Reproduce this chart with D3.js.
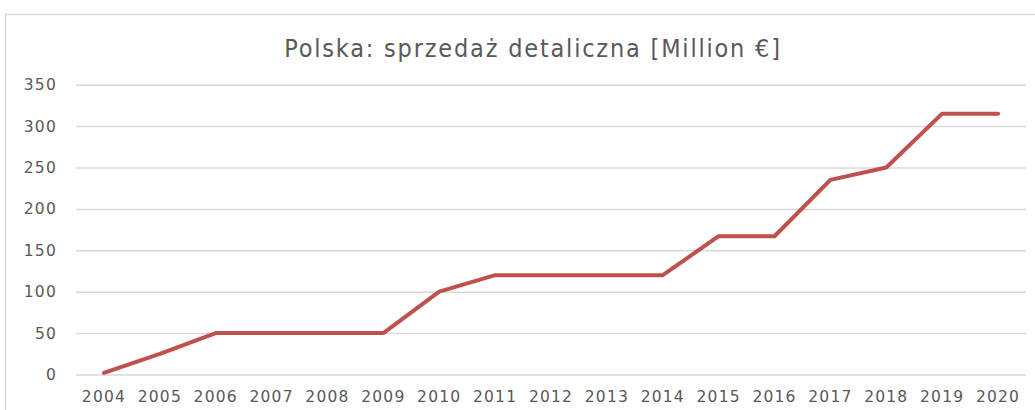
<!DOCTYPE html>
<html>
<head>
<meta charset="utf-8">
<script src="https://cdn.jsdelivr.net/npm/d3@7"></script>
<style>
  body { margin: 0; background: #fff; }
  svg { display: block; }
</style>
</head>
<body>
<div id="chart"></div>
<script>
// chart data
const years = ['2004', '2005', '2006', '2007', '2008', '2009', '2010', '2011', '2012',
  '2013', '2014', '2015', '2016', '2017', '2018', '2019', '2020'];
const sales = [2, 25, 50, 50, 50, 50, 100, 120, 120, 120, 120, 167, 167, 235, 250, 315, 315];
const yTicks = [0, 50, 100, 150, 200, 250, 300, 350];
const title = 'Polska: sprzedaż detaliczna [Million €]';

const W = 1035, H = 410;
const margin = { top: 84.7, right: 9, bottom: 35.5, left: 76 };
const width = W - margin.left - margin.right;
const height = H - margin.top - margin.bottom;

const svg = d3.select('#chart').append('svg')
  .attr('width', W)
  .attr('height', H);

// outer chart border (partially cropped in the original)
svg.append('rect')
  .attr('x', 5.5).attr('y', 14.5)
  .attr('width', W + 20).attr('height', H + 20)
  .style('fill', 'none')
  .style('stroke', '#d9d9d9')
  .style('stroke-width', 1.5);

svg.append('text')
  .attr('x', 533)
  .attr('y', 57)
  .attr('text-anchor', 'middle')
  .style('font-family', '"Liberation Sans Narrow", "DejaVu Sans Condensed", sans-serif')
  .style('font-size', '25px')
  .style('letter-spacing', '1.8px')
  .style('fill', '#595959')
  .text(title);

const g = svg.append('g')
  .attr('transform', `translate(${margin.left},${margin.top})`);

const x = d3.scaleBand()
  .domain(years)
  .range([0, width]);

const y = d3.scaleLinear()
  .domain([0, 350])
  .range([height, 0]);

// gridlines
g.append('g')
  .call(d3.axisLeft(y).tickValues(yTicks).tickSize(-width).tickFormat(''))
  .call(s => s.select('.domain').remove())
  .call(s => s.selectAll('line').style('stroke', '#d9d9d9').style('stroke-width', 1.5));

// y labels
g.append('g')
  .call(d3.axisLeft(y).tickValues(yTicks).tickSize(0).tickPadding(19))
  .call(s => s.select('.domain').remove())
  .call(s => s.selectAll('text')
    .style('font-family', '"DejaVu Sans", sans-serif')
    .style('font-size', '15.5px')
    .style('letter-spacing', '1.2px')
    .style('fill', '#595959'));

// x labels
g.append('g')
  .attr('transform', `translate(0,${height})`)
  .call(d3.axisBottom(x).tickSize(0).tickPadding(16))
  .call(s => s.select('.domain').remove())
  .call(s => s.selectAll('text')
    .style('font-family', '"DejaVu Sans", sans-serif')
    .style('font-size', '15.5px')
    .style('letter-spacing', '1.2px')
    .style('fill', '#595959'));

const line = d3.line()
  .x((d, i) => x(years[i]) + x.bandwidth() / 2)
  .y(d => y(d));

g.append('path')
  .datum(sales)
  .attr('d', line)
  .style('fill', 'none')
  .style('stroke', '#c0504d')
  .style('stroke-width', 4)
  .style('stroke-linejoin', 'round')
  .style('stroke-linecap', 'round');
</script>
</body>
</html>
